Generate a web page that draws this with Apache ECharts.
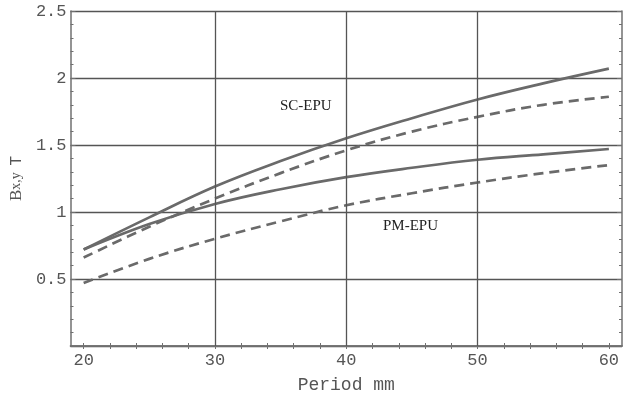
<!DOCTYPE html>
<html>
<head>
<meta charset="utf-8">
<script src="https://cdn.jsdelivr.net/npm/echarts@6/dist/echarts.min.js"></script>
<style>html,body{margin:0;padding:0;background:#fff;}#chart{width:633px;height:399px;}</style>
</head>
<body>
<div id="chart"></div>
<script>
// Data (period in mm, field in T)
const periods = [20, 25, 30, 35, 40, 45, 50, 55, 60];
const scSolid  = [0.72, 0.96, 1.19, 1.38, 1.55, 1.70, 1.84, 1.96, 2.07];
const scDashed = [0.66, 0.89, 1.10, 1.29, 1.46, 1.60, 1.71, 1.80, 1.86];
const pmSolid  = [0.72, 0.91, 1.06, 1.17, 1.26, 1.33, 1.39, 1.43, 1.47];
const pmDashed = [0.47, 0.65, 0.80, 0.93, 1.05, 1.14, 1.22, 1.29, 1.35];
const xTickLabels = [20, 30, 40, 50, 60];
const xMinorTicks = [20, 22, 24, 26, 28, 30, 32, 34, 36, 38, 40, 42, 44, 46, 48, 50, 52, 54, 56, 58, 60];
const xGrid = [30, 40, 50];
const curveLabels = ['SC-EPU', 'PM-EPU'];

const lineCol = '#6a6a6a';
const gridCol = '#555';
const axisCol = '#707070';
const mono = '"Liberation Mono", "DejaVu Sans Mono", monospace';
const serif = '"Liberation Serif", "DejaVu Serif", serif';

function pairs(ys) { return periods.map((x, i) => [x, ys[i]]); }

const chart = echarts.init(document.getElementById('chart'), null, {renderer: 'canvas'});
const lineSeries = (name, ys, dashed) => ({
  name, type: 'line', data: pairs(ys), smooth: 0.4, symbol: 'none',
  xAxisIndex: 0, yAxisIndex: 0,
  lineStyle: {color: lineCol, width: 2.7, type: dashed ? [10, 6] : 'solid'},
  silent: true, z: 3
});

const s0 = lineSeries('SC solid', scSolid, false);
s0.markLine = {
  silent: true, symbol: 'none', label: {show: false},
  lineStyle: {color: gridCol, width: 1.3, type: 'solid'},
  data: xGrid.map(v => ({xAxis: v}))
};

chart.setOption({
  animation: false,
  backgroundColor: '#fff',
  grid: {left: 70, right: 11, top: 11, bottom: 48},
  xAxis: [
    {
      type: 'value', min: 19, max: 61, position: 'bottom',
      name: 'Period mm', nameLocation: 'middle', nameGap: 30,
      nameTextStyle: {fontFamily: mono, fontSize: 18, color: '#555'},
      axisLine: {show: true, lineStyle: {color: axisCol, width: 1.5}},
      axisTick: {show: true, inside: true, length: 3, customValues: xMinorTicks, lineStyle: {color: axisCol}},
      axisLabel: {customValues: xTickLabels, fontFamily: mono, fontSize: 17, color: '#555', margin: 6},
      splitLine: {show: false}
    },
    {
      type: 'value', min: 19, max: 61, position: 'top',
      axisLine: {show: true, lineStyle: {color: axisCol, width: 1.5}},
      axisTick: {show: true, inside: true, length: 3, customValues: xMinorTicks, lineStyle: {color: axisCol}},
      axisLabel: {show: false},
      splitLine: {show: false}
    }
  ],
  yAxis: [
    {
      type: 'value', min: 0, max: 2.5, interval: 0.5, position: 'left',
      name: '{b|B}{s|x,y}  {t|T}', nameLocation: 'middle', nameGap: 36, nameRotate: 90,
      nameTextStyle: {
        rich: {
          b: {fontFamily: serif, fontSize: 17, color: '#555'},
          s: {fontFamily: serif, fontSize: 14, color: '#555'},
          t: {fontFamily: mono, fontSize: 16, color: '#555'}
        }
      },
      axisLine: {show: true, lineStyle: {color: axisCol, width: 1.5}},
      axisTick: {show: true, inside: true, length: 5, lineStyle: {color: axisCol}},
      minorTick: {show: true, splitNumber: 5, length: 3, lineStyle: {color: axisCol}},
      axisLabel: {
        fontFamily: mono, fontSize: 17, color: '#555', margin: 4,
        formatter: v => (v === 0 ? '' : String(v))
      },
      splitLine: {show: true, lineStyle: {color: gridCol, width: 1.3}}
    },
    {
      type: 'value', min: 0, max: 2.5, interval: 0.5, position: 'right',
      axisLine: {show: true, lineStyle: {color: axisCol, width: 1.5}},
      axisTick: {show: true, inside: true, length: 5, lineStyle: {color: axisCol}},
      minorTick: {show: true, splitNumber: 5, length: 3, lineStyle: {color: axisCol}},
      axisLabel: {show: false},
      splitLine: {show: false}
    }
  ],
  graphic: [
    {type: 'text', left: 280, top: 99, style: {text: curveLabels[0], font: '15px ' + serif, fill: '#222'}},
    {type: 'text', left: 383, top: 219, style: {text: curveLabels[1], font: '15px ' + serif, fill: '#222'}}
  ],
  series: [
    s0,
    lineSeries('SC dashed', scDashed, true),
    lineSeries('PM solid', pmSolid, false),
    lineSeries('PM dashed', pmDashed, true)
  ]
});
</script>
</body>
</html>
